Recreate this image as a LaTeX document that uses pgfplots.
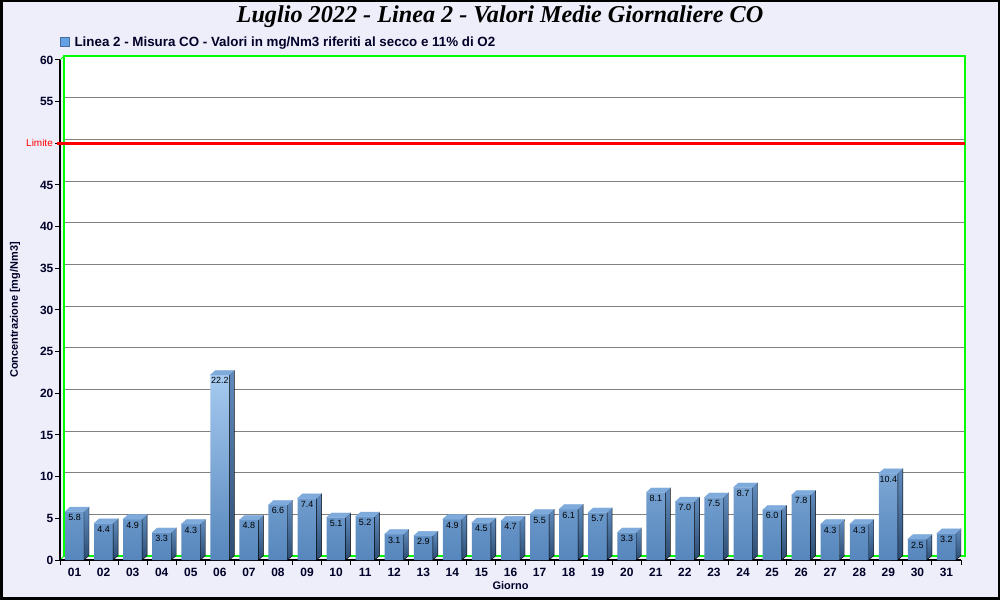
\documentclass[border=0pt]{standalone}
\usepackage{pgfplots}
\usepackage{pgfplotstable}
\pgfplotsset{compat=1.18}
\usepackage{fontspec}
\setmainfont{Liberation Sans}
\newfontfamily\titlefont{Liberation Serif}

\definecolor{bgcol}{RGB}{238,238,250}
\definecolor{txtcol}{RGB}{0,0,40}
\definecolor{bartop}{RGB}{166,202,240}
\definecolor{barbot}{RGB}{86,134,188}
\definecolor{sidetop}{RGB}{96,140,190}
\definecolor{sidebot}{RGB}{44,76,114}
\definecolor{topface}{RGB}{126,170,220}
\definecolor{gridcol}{RGB}{128,128,128}
\definecolor{wallgreen}{RGB}{0,255,0}
\definecolor{limred}{RGB}{255,0,0}

\pgfdeclareplotmark{vuoto}{}

% valori medi giornalieri CO, luglio 2022
\pgfplotstableread{
giorno valore
1  5.8
2  4.4
3  4.9
4  3.3
5  4.3
6  22.2
7  4.8
8  6.6
9  7.4
10 5.1
11 5.2
12 3.1
13 2.9
14 4.9
15 4.5
16 4.7
17 5.5
18 6.1
19 5.7
20 3.3
21 8.1
22 7.0
23 7.5
24 8.7
25 6.0
26 7.8
27 4.3
28 4.3
29 10.4
30 2.5
31 3.2
}\dati

\begin{document}
\begin{tikzpicture}
% sfondo e cornice
\fill[bgcol] (0,0) rectangle (1000bp,600bp);
\draw[black, line width=2.5bp] (1.25bp,1.25bp) rectangle (998.75bp,598.75bp);
\node[font=\titlefont\bfseries\itshape\fontsize{24.3}{28}\selectfont] at (500bp,583bp)
  {Luglio 2022 - Linea 2 - Valori Medie Giornaliere CO};
% parete di fondo
\fill[white] (64bp,44bp) rectangle (965bp,544bp);
\foreach \k in {1,...,11}
  \draw[gridcol] (64bp,{44bp+\k*41.6667bp}) -- (965bp,{44bp+\k*41.6667bp});
\draw[wallgreen, line width=1.2bp] (64bp,44bp) rectangle (965bp,544bp);
\draw[wallgreen, line width=1bp] (60bp,40bp) -- (64bp,44bp);
\draw[wallgreen, line width=1bp] (60bp,540bp) -- (64bp,544bp);

\begin{axis}[
  at={(60bp,40bp)}, anchor=south west,
  width=901bp, height=500bp, scale only axis,
  xmin=0.5, xmax=31.5, ymin=0, ymax=60,
  clip=false,
  /pgf/number format/assume math mode=true,
  axis x line*=bottom, axis y line*=left,
  axis line style={black, line width=2bp, -},
  tick align=outside, major tick length=5bp,
  tick style={black, line width=1bp},
  xtick={0.5,1.5,...,31.5},
  x tick label as interval,
  xticklabels={01,02,03,04,05,06,07,08,09,10,11,12,13,14,15,16,17,18,19,20,21,22,23,24,25,26,27,28,29,30,31},
  ytick={0,5,...,60},
  yticklabels={0,5,10,15,20,25,30,35,40,45,,55,60},
  ticklabel style={font=\bfseries\fontsize{12}{14}\selectfont, text=txtcol},
  yticklabel style={inner sep=1.5bp},
  xlabel={Giorno}, ylabel={Concentrazione [mg/Nm3]},
  every axis x label/.style={at={(axis description cs:0.5,0)}, yshift=-26bp, anchor=center,
    font=\bfseries\fontsize{11}{13}\selectfont, text=txtcol},
  every axis y label/.style={at={(axis description cs:0,0.5)}, xshift=-45bp, rotate=90, anchor=center,
    font=\bfseries\fontsize{11}{13}\selectfont, text=txtcol},
  legend style={at={(axis description cs:0,1)}, anchor=west, yshift=18bp,
    draw=none, fill=none, inner sep=0pt,
    font=\bfseries\fontsize{13.4}{15}\selectfont, text=txtcol},
  legend cell align=left,
]
\addlegendimage{legend image code/.code={
  \draw[draw={rgb,255:red,70;green,110;blue,160}, fill={rgb,255:red,100;green,160;blue,228}]
    (0bp,-4.5bp) rectangle (9bp,4.5bp);
  \path (12bp,0bp);}}
\addlegendentry{Linea 2 - Misura CO - Valori in mg/Nm3 riferiti al secco e 11\% di O2}

% facce frontali
\addplot[ybar, bar width=19bp, bar shift=0pt, draw=none,
  top color=bartop, bottom color=barbot, forget plot,
  nodes near coords={\pgfmathprintnumber[fixed, fixed zerofill, precision=1]{\pgfplotspointmeta}},
  every node near coord/.append style={anchor=north, yshift=-1.5bp, inner sep=1bp,
    text=black, font=\fontsize{9}{10}\selectfont}]
  table[x=giorno, y=valore]{\dati};

% facce laterali e superiori
\addplot[only marks, mark=vuoto, forget plot, scatter,
  visualization depends on={\thisrow{valore} \as \vv},
  scatter/@pre marker code/.code={
    \pgfmathsetmacro\hh{\vv*500/60}
    \shade[top color=sidetop, bottom color=sidebot]
      (9.5bp,0bp) -- (14.5bp,4.5bp) -- (14.5bp,{4.5bp-\hh bp}) -- (9.5bp,{-\hh bp}) -- cycle;
    \fill[topface] (-9.5bp,0bp) -- (-4.5bp,4.5bp) -- (14.5bp,4.5bp) -- (9.5bp,0bp) -- cycle;
  },
  scatter/@post marker code/.code={}]
  table[x=giorno, y=valore]{\dati};

% limite
\draw[limred, line width=3bp] ([xshift=-3bp]axis cs:0.5,50) -- ([xshift=4bp]axis cs:31.5,50);
\node[anchor=east, inner sep=0pt, text=limred, font=\fontsize{10}{12}\selectfont]
  at ([xshift=-7bp]axis cs:0.5,50) {Limite};
\end{axis}
\end{tikzpicture}
\end{document}
